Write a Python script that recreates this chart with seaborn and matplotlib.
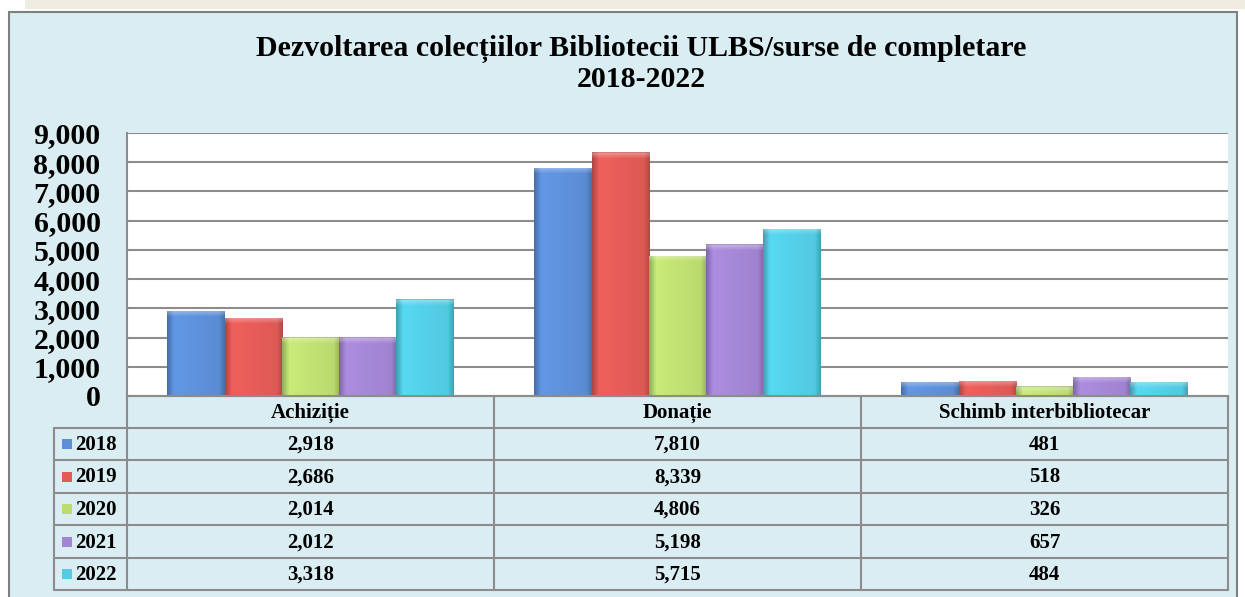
import numpy as np
import pandas as pd
import seaborn as sns
import matplotlib.pyplot as plt
import matplotlib.colors as mcolors
from matplotlib.patches import Rectangle
from matplotlib.ticker import FuncFormatter

# date
categories = ['Achiziție', 'Donație', 'Schimb interbibliotecar']
years = ['2018', '2019', '2020', '2021', '2022']
v2018 = [2918, 7810, 481]
v2019 = [2686, 8339, 518]
v2020 = [2014, 4806, 326]
v2021 = [2012, 5198, 657]
v2022 = [3318, 5715, 484]
colors = ['#5b8ed6', '#e05a56', '#bcdc70', '#a184d2', '#52cbe3']
title = 'Dezvoltarea colecțiilor Bibliotecii ULBS/surse de completare\n2018-2022'

values = [v2018, v2019, v2020, v2021, v2022]
rows = []
for y, vals in zip(years, values):
    for c, v in zip(categories, vals):
        rows.append((c, y, v))
df = pd.DataFrame(rows, columns=['Categorie', 'An', 'Valoare'])

sns.set_theme(style='white')
plt.rcParams['font.family'] = ['Liberation Serif', 'DejaVu Serif']
plt.rcParams['font.weight'] = 'bold'
plt.rcParams['text.color'] = 'black'
plt.rcParams['ytick.color'] = 'black'
plt.rcParams['ytick.labelcolor'] = 'black'

W, H = 1245, 597
fig = plt.figure(figsize=(W / 100, H / 100), dpi=100)
fig.patch.set_facecolor('white')

# fundal in pixeli
bg = fig.add_axes([0, 0, 1, 1])
bg.set_xlim(0, W)
bg.set_ylim(H, 0)
bg.axis('off')
bg.set_zorder(0)
bg.add_patch(Rectangle((25, 0), W - 25, 9, color='#eeebe1', lw=0))
bg.add_patch(Rectangle((9, 12), 1228, 600, facecolor='#daedf3', edgecolor='#7f7f7f', lw=1.5))
bg.text(641, 64, title, ha='center', va='center', fontsize=21.5, fontweight='bold',
        linespacing=1.1, color='black')

# grafic
L, R, T, B = 127, 1228, 133, 396
ax = fig.add_axes([L / W, 1 - B / H, (R - L) / W, (B - T) / H])
ax.set_zorder(1)
ax.set_facecolor('white')
sns.barplot(data=df, x='Categorie', y='Valoare', hue='An', palette=colors, width=0.78,
            saturation=1, legend=False, ax=ax, edgecolor='none')
ax.set_xlim(-0.5, 2.5)
ax.set_ylim(0, 9000)
ax.set_yticks(range(0, 9001, 1000))
ax.yaxis.set_major_formatter(FuncFormatter(lambda v, p: f'{int(v):,}'))
ax.set_xticks([])
ax.set_xlabel('')
ax.set_ylabel('')
ax.grid(axis='y', color='#8c8c8c', lw=1.5)
ax.set_axisbelow(True)
ax.tick_params(axis='y', labelsize=21.5, pad=19, length=0, labelcolor='black')
for s in ['top', 'right']:
    ax.spines[s].set_visible(False)
for s in ['left', 'bottom']:
    ax.spines[s].set_color('#8c8c8c')
    ax.spines[s].set_linewidth(1.5)

# efect de gradient pe bare
px_per_unit = (B - T) / 9000
for patch in list(ax.patches):
    x0, y0 = patch.get_x(), patch.get_y()
    w, h = patch.get_width(), patch.get_height()
    if h <= 0:
        continue
    base = np.array(mcolors.to_rgb(patch.get_facecolor()))
    ny = max(int(h * px_per_unit), 3)
    nx = 60
    t = np.linspace(0, 1, nx)
    f = 0.78 + 0.3 * np.clip(t / 0.12, 0, 1) - 0.1 * t - 0.18 * np.clip((t - 0.9) / 0.1, 0, 1)
    img = np.clip(base[None, None, :] * f[None, :, None], 0, 1) * np.ones((ny, 1, 1))
    band = min(6, ny - 1)
    for i in range(band):
        a = 0.35 * (1 - i / band)
        img[ny - 1 - i] = img[ny - 1 - i] * (1 - a) + a
    img[ny - 1] = img[ny - 1] * 0.85
    im = ax.imshow(img, extent=[x0, x0 + w, y0, y0 + h], aspect='auto', origin='lower',
                   zorder=patch.get_zorder() + 0.1, interpolation='bilinear')
    im.set_clip_path(patch)
ax.set_xlim(-0.5, 2.5)
ax.set_ylim(0, 9000)

# tabel de date
grid_c = '#8c8c8c'
row_y = [396, 428, 460, 493, 525, 558, 590]
col_x = [127, 494, 861, 1228]
bg.plot([127, 1228], [396, 396], color=grid_c, lw=1.5)
for y in row_y[1:]:
    bg.plot([54, 1228], [y, y], color=grid_c, lw=1.5)
for x in col_x:
    bg.plot([x, x], [396, 590], color=grid_c, lw=1.5)
bg.plot([54, 54], [428, 590], color=grid_c, lw=1.5)

for j, c in enumerate(categories):
    cx = (col_x[j] + col_x[j + 1]) / 2
    bg.text(cx, 413, c, ha='center', va='center', fontsize=15, fontweight='bold', color='black')
for i, (y, vals) in enumerate(zip(years, values)):
    cy = (row_y[i + 1] + row_y[i + 2]) / 2
    bg.add_patch(Rectangle((62, cy - 5), 10, 10, facecolor=colors[i], edgecolor='none'))
    bg.text(75, cy + 1, y, ha='left', va='center', fontsize=15, fontweight='bold', color='black')
    for j, v in enumerate(vals):
        cx = (col_x[j] + col_x[j + 1]) / 2
        bg.text(cx, cy + 1, f'{v:,}', ha='center', va='center', fontsize=15,
                fontweight='bold', color='black')

fig.savefig('out.png', dpi=100)
